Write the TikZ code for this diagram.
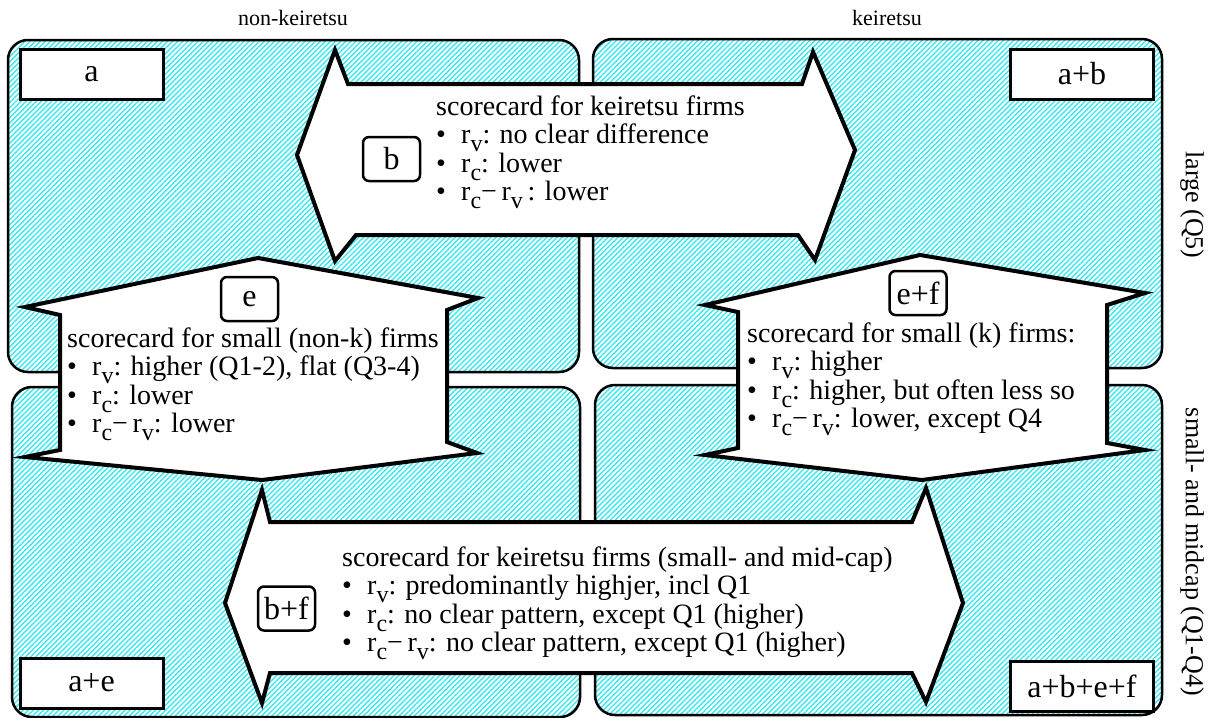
\documentclass[tikz,border=0pt]{standalone}
\usepackage{fontspec}
\setmainfont{Liberation Serif}
\usetikzlibrary{patterns.meta}
\definecolor{hatch}{RGB}{60,232,240}
\newcommand\sbs[1]{\raisebox{-8pt}{\fontsize{24}{24}\selectfont #1}}
\newcommand\bul{\makebox[25pt][l]{•}}
\newcommand\ms{−\,}
\begin{document}
\begin{tikzpicture}[x=1pt,y=-1pt,
  quad/.style={draw=black, line width=2.5pt, rounded corners=20pt,
    pattern={Lines[angle=45,distance=3.6pt,line width=1.4pt]}, pattern color=hatch},
  cbox/.style={draw, line width=3pt, fill=white, minimum width=143pt, minimum height=50pt,
    inner sep=0pt, font=\fontsize{32}{32}\selectfont},
  shp/.style={draw, line width=4pt, fill=white, line join=miter},
  tag/.style={draw, line width=2.5pt, rounded corners=6pt, fill=white, minimum width=57pt,
    minimum height=44pt, inner sep=0pt, font=\fontsize{32}{32}\selectfont},
  body/.style={anchor=base west, inner sep=0pt, font=\fontsize{28}{28.5}\selectfont},
  side/.style={inner sep=0pt, font=\fontsize{26}{26}\selectfont}
]
\useasboundingbox (0,0) rectangle (1211,718);
\fill[white] (0,0) rectangle (1211,718);

% quadrants
\draw[quad] (8,40) rectangle (579,372);
\draw[quad] (593,39) rectangle (1162,368);
\draw[quad] (12,387) rectangle (580,717);
\draw[quad] (595,385) rectangle (1162,715);

% corner labels
\node[cbox] (la) at (91.5,74) {a};
\node[cbox] (lab) at (1082,74) {a+b};
\node[cbox] (lae) at (91.5,683) {a+e};
\node[cbox] (labef) at (1082,686) {a+b+e+f};

% top double arrow
\draw[shp] (297,155) -- (335,50) -- (348,84) -- (802,84) -- (813,52) -- (855,150)
  -- (815,260) -- (798,235) -- (356,235) -- (335,261) -- cycle;
% e shape
\draw[shp] (258,258) -- (478,298) -- (447,310) -- (447,442) -- (477,453) -- (262,480)
  -- (25,457) -- (60,450) -- (60,315) -- (25,307) -- cycle;
% e+f shape
\draw[shp] (920,255) -- (1145,293) -- (1107,305) -- (1107,443) -- (1145,450) -- (922,480)
  -- (705,455) -- (738,448) -- (738,312) -- (705,305) -- cycle;
% bottom double arrow
\draw[shp] (225,603) -- (262,490) -- (270,522) -- (912,522) -- (926,488) -- (963,603)
  -- (926,702) -- (912,673) -- (270,673) -- (262,703) -- cycle;

% tags
\node[tag] (tb) at (391.5,159) {b};
\node[tag] (te) at (249.5,299) {e};
\node[tag] (tef) at (918,293) {e+f};
\node[tag] (tbf) at (286.5,608.5) {b+f};

% texts
\node[body] (txb) at (436,115) {\begin{tabular}[t]{@{}l@{}}
scorecard for keiretsu firms\\
\bul r\sbs{v}: no clear difference\\
\bul r\sbs{c}: lower\\
\bul r\sbs{c}\ms r\sbs{v}\,: lower\end{tabular}};

\node[body] (txe) at (67,347) {\begin{tabular}[t]{@{}l@{}}
scorecard for small (non-k) firms\\
\bul r\sbs{v}: higher (Q1-2), flat (Q3-4)\\
\bul r\sbs{c}: lower\\
\bul r\sbs{c}\ms r\sbs{v}: lower\end{tabular}};

\node[body] (txef) at (747,342) {\begin{tabular}[t]{@{}l@{}}
scorecard for small (k) firms:\\
\bul r\sbs{v}: higher\\
\bul r\sbs{c}: higher, but often less so\\
\bul r\sbs{c}\ms r\sbs{v}: lower, except Q4\end{tabular}};

\node[body] (txbf) at (342,566) {\begin{tabular}[t]{@{}l@{}}
scorecard for keiretsu firms (small- and mid-cap)\\
\bul r\sbs{v}: predominantly highjer, incl Q1\\
\bul r\sbs{c}: no clear pattern, except Q1 (higher)\\
\bul r\sbs{c}\ms r\sbs{v}: no clear pattern, except Q1 (higher)\end{tabular}};

% side labels
\node[side, font=\fontsize{22}{22}\selectfont] (nk) at (293,18) {non-keiretsu};
\node[side, font=\fontsize{22}{22}\selectfont] (kk) at (887,18) {keiretsu};
\node[side, rotate=-90] (lg) at (1192,205) {large (Q5)};
\node[side, rotate=-90] (sm) at (1192,552) {small- and midcap (Q1-Q4)};
\end{tikzpicture}
\end{document}
